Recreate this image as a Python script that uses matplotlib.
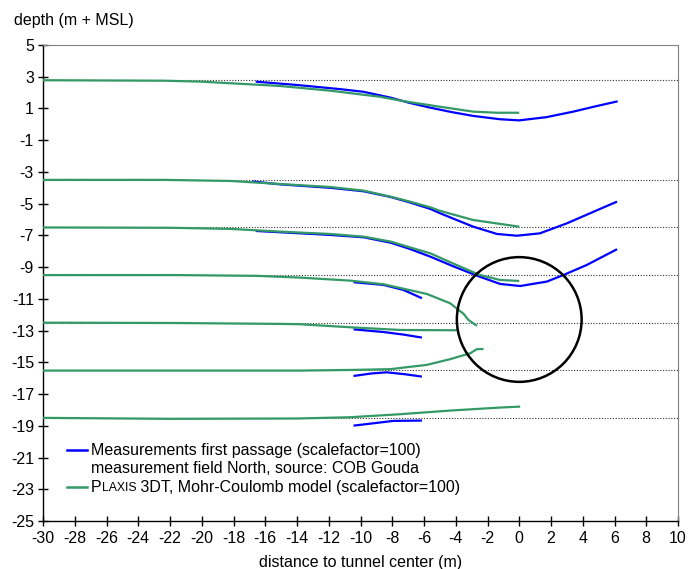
import matplotlib
matplotlib.use("Agg")
import matplotlib.pyplot as plt
import numpy as np
from matplotlib.patches import Circle

plt.rcParams['font.family'] = ['Liberation Sans', 'DejaVu Sans']
plt.rcParams['axes.unicode_minus'] = False

# reference levels (dotted)
levels = [2.8, -3.5, -6.5, -9.5, -12.5, -15.5, -18.5]

# PLAXIS 3DT (green) curves
g1_x = [-30, -22.4, -20, -18.2, -15.1, -11.9, -8.8, -7.1, -5.0, -2.9, -1.4, 0]
g1_y = [2.78, 2.75, 2.69, 2.59, 2.42, 2.12, 1.74, 1.43, 1.11, 0.80, 0.73, 0.73]
g2_x = [-30, -22.4, -18.2, -15.1, -11.9, -9.8, -8.1, -6.9, -5.6, -5.0, -2.9, 0]
g2_y = [-3.5, -3.5, -3.57, -3.76, -3.95, -4.18, -4.56, -4.87, -5.23, -5.45, -6.03, -6.45]
g3_x = [-30, -22, -18.2, -15.1, -11.9, -9.8, -8.1, -6.9, -5.6, -4.1, -2.5, -1.2, 0]
g3_y = [-6.5, -6.52, -6.59, -6.76, -6.91, -7.08, -7.39, -7.75, -8.13, -8.8, -9.49, -9.81, -9.87]
g4_x = [-30, -21.6, -16.5, -13.8, -10.65, -8.55, -5.82, -4.35, -3.5, -3.2, -2.67]
g4_y = [-9.5, -9.5, -9.55, -9.66, -9.85, -10.08, -10.69, -11.28, -11.95, -12.33, -12.7]
g5_x = [-30, -21.8, -14.9, -13.8, -10.65, -7.5, -3.93]
g5_y = [-12.5, -12.52, -12.58, -12.6, -12.79, -12.96, -12.98]
g6_x = [-30, -13.8, -10.65, -8.13, -5.82, -4.35, -3.09, -2.67, -2.25]
g6_y = [-15.52, -15.52, -15.48, -15.43, -15.16, -14.8, -14.43, -14.17, -14.16]
g7_x = [-30, -22, -14, -10.65, -7.5, -4.35, -1.2, 0.06]
g7_y = [-18.5, -18.56, -18.54, -18.46, -18.27, -18.04, -17.85, -17.79]

# Measurements (blue) curves
b1_x = [-16.6, -14.0, -11.3, -9.8, -8.1, -6.9, -5.6, -4.3, -2.9, -1.2, 0.0, 1.7, 3.4, 4.7, 6.2]
b1_y = [2.69, 2.48, 2.22, 2.05, 1.68, 1.35, 1.05, 0.78, 0.53, 0.32, 0.25, 0.45, 0.80, 1.11, 1.45]
b2_x = [-16.8, -15.1, -11.9, -9.8, -8.1, -6.9, -5.6, -5.0, -2.9, -1.4, -0.15, 1.3, 3.0, 4.7, 6.16]
b2_y = [-3.6, -3.78, -4.0, -4.22, -4.58, -4.92, -5.33, -5.6, -6.45, -6.91, -7.02, -6.87, -6.24, -5.5, -4.87]
b3_x = [-16.6, -11.9, -9.8, -8.1, -6.9, -5.6, -4.1, -2.5, -1.2, 0.06, 1.74, 2.8, 4.26, 6.16]
b3_y = [-6.72, -6.97, -7.12, -7.46, -7.85, -8.34, -8.97, -9.6, -10.06, -10.19, -9.91, -9.49, -8.86, -7.87]
b4_x = [-10.44, -8.55, -7.29, -6.13]
b4_y = [-9.95, -10.12, -10.44, -10.96]
b5_x = [-10.44, -8.55, -7.3, -6.13]
b5_y = [-12.92, -13.09, -13.25, -13.44]
b6_x = [-10.44, -9.3, -8.34, -7.2, -6.13]
b6_y = [-15.86, -15.7, -15.63, -15.75, -15.9]
b7_x = [-10.44, -7.92, -6.13]
b7_y = [-18.99, -18.69, -18.67]

green_curves = [(g1_x, g1_y), (g2_x, g2_y), (g3_x, g3_y), (g4_x, g4_y),
                (g5_x, g5_y), (g6_x, g6_y), (g7_x, g7_y)]
blue_curves = [(b1_x, b1_y), (b2_x, b2_y), (b3_x, b3_y), (b4_x, b4_y),
               (b5_x, b5_y), (b6_x, b6_y), (b7_x, b7_y)]

# tunnel
tunnel_center = (0.0, -12.3)
tunnel_radius = 3.93

x_ticks = list(range(-30, 11, 2))
y_ticks = list(range(5, -26, -2))

BLUE = '#0000FF'
GREEN = '#339966'
FS = 11.5

fig = plt.figure(figsize=(6.88, 5.69), dpi=100)
ax = fig.add_axes([43/688, 1 - 521/569, 635/688, 476/569])

for lv in levels:
    ax.axhline(lv, color='#333333', lw=0.8, ls=(0, (1, 1.5)), zorder=1)

for xs, ys in green_curves:
    ax.plot(xs, ys, color=GREEN, lw=1.6, zorder=3, solid_capstyle='butt')
for xs, ys in blue_curves:
    ax.plot(xs, ys, color=BLUE, lw=1.6, zorder=2, solid_capstyle='butt')

ax.add_patch(Circle(tunnel_center, tunnel_radius, fill=False, ec='black', lw=1.8, zorder=4))

ax.set_xlim(-30, 10)
ax.set_ylim(-25, 5)
ax.set_xticks(x_ticks)
ax.set_yticks(y_ticks)
ax.tick_params(direction='inout', length=7, width=1, labelsize=FS, pad=3, colors='black')
ax.tick_params(axis='x', pad=4)

for s in ['left', 'bottom']:
    ax.spines[s].set_color('black')
    ax.spines[s].set_linewidth(1.0)
for s in ['top', 'right']:
    ax.spines[s].set_color('#808080')
    ax.spines[s].set_linewidth(0.8)

ax.set_xlabel('distance to tunnel center (m)', fontsize=FS, labelpad=6)
fig.text(14/688, 1 - 20/569, 'depth (m + MSL)', fontsize=FS, va='center', ha='left')

# legend (manual)
tr = ax.transAxes
ax.plot([0.0378, 0.0693], [0.149, 0.149], color=BLUE, lw=1.8, transform=tr, clip_on=False)
ax.plot([0.0378, 0.0693], [0.0708, 0.0708], color=GREEN, lw=1.8, transform=tr, clip_on=False)
ax.text(0.0756, 0.149, 'Measurements first passage (scalefactor=100)', transform=tr,
        fontsize=FS, va='center', ha='left')
ax.text(0.0756, 0.110, 'measurement field North, source: COB Gouda', transform=tr,
        fontsize=FS, va='center', ha='left')
t1 = ax.text(0.0756, 0.0708, 'P', transform=tr, fontsize=FS, va='center', ha='left')
t2 = ax.annotate('LAXIS', xy=(1, 0), xycoords=t1, fontsize=8.8, va='bottom', ha='left',
                 xytext=(0, 0.5), textcoords='offset points')
t3 = ax.annotate(' 3DT, Mohr-Coulomb model (scalefactor=100)', xy=(1, 0), xycoords=t2,
                 fontsize=FS, va='bottom', ha='left', xytext=(0, -0.5), textcoords='offset points')

fig.savefig('out.png', dpi=100)
